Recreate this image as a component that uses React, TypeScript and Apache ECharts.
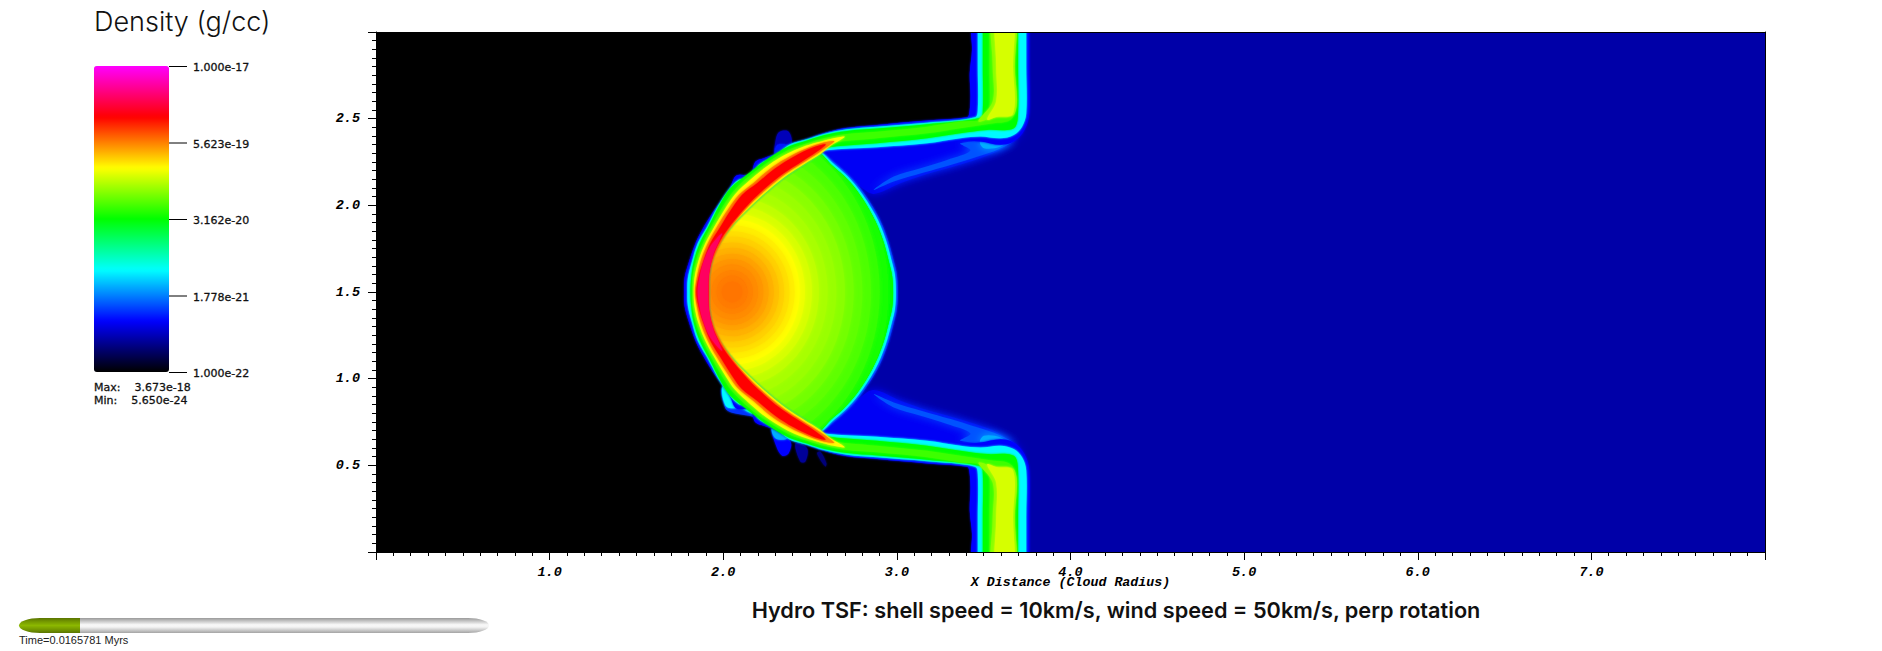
import React, { useEffect, useRef } from "react";
import * as echarts from "echarts";

type P = number[];

const CHART_TITLE = "Hydro TSF: shell speed = 10km/s, wind speed = 50km/s, perp rotation";
const COLORBAR_TITLE = "Density (g/cc)";
const X_AXIS_NAME = "X Distance (Cloud Radius)";
const TIME_LABEL = "Time=0.0165781 Myrs";
const STATS = ["Max:    3.673e-18", "Min:    5.650e-24"];
const colorbarTickLogs = [-17, -18.25, -19.5, -20.75, -22];
const colorbarTickLabels = ["1.000e-17", "5.623e-19", "3.162e-20", "1.778e-21", "1.000e-22"];
const colormap = ["#000000", "#0000ff", "#00ffff", "#00ff00", "#ffff00", "#ff0000", "#ff00ff"];

// Density contours, as [x, y] in axis units; upper half, top to equator.
const outerA: P[] = [[3.427,3.15],[3.427,3],[3.433,2.897],[3.42,2.762],[3.424,2.627],[3.417,2.53],[3.405,2.508],[3.174,2.489],[2.886,2.464],[2.694,2.445],[2.579,2.416],[2.464,2.377],[2.387,2.354],[2.3,2.297],[2.233,2.272],[2.185,2.252],[2.156,2.181],[2.076,2.172],[2.041,2.108],[2.003,2.05],[1.936,1.954],[1.878,1.858],[1.84,1.781],[1.8,1.666],[1.777,1.58],[1.774,1.5]];
const outerB: P[] = [[3.466,3.15],[3.466,3],[3.466,2.8],[3.466,2.55],[3.45,2.508],[3.174,2.477],[2.886,2.454],[2.713,2.439],[2.579,2.412],[2.483,2.381],[2.377,2.348],[2.3,2.285],[2.204,2.233],[2.16,2.156],[2.089,2.147],[2.032,2.089],[1.968,1.993],[1.907,1.877],[1.853,1.781],[1.82,1.676],[1.796,1.579],[1.793,1.5]];
const outerC: P[] = [[3.495,3.15],[3.495,3],[3.495,2.8],[3.495,2.55],[3.48,2.505],[3.174,2.468],[2.886,2.443],[2.713,2.429],[2.579,2.404],[2.483,2.374],[2.377,2.339],[2.262,2.272],[2.147,2.185],[2.041,2.099],[1.984,2.012],[1.92,1.887],[1.865,1.781],[1.83,1.676],[1.815,1.579],[1.811,1.5]];
const outerD: P[] = [[3.533,3.15],[3.533,3],[3.533,2.8],[3.533,2.55],[3.515,2.5],[3.366,2.483],[3.174,2.454],[2.886,2.425],[2.713,2.412],[2.579,2.387],[2.483,2.358],[2.377,2.32],[2.262,2.252],[2.147,2.166],[2.057,2.079],[2.003,2.002],[1.936,1.887],[1.882,1.781],[1.845,1.685],[1.824,1.589],[1.82,1.5]];
const outerE: P[] = [[2.7,2.395],[2.636,2.387],[2.54,2.362],[2.454,2.335],[2.368,2.297],[2.262,2.233],[2.156,2.147],[2.07,2.066],[2.016,1.989],[1.949,1.877],[1.897,1.781],[1.859,1.685],[1.836,1.589],[1.83,1.5]];
const outerF: P[] = [[2.64,2.37],[2.579,2.362],[2.483,2.329],[2.387,2.285],[2.281,2.22],[2.176,2.131],[2.089,2.06],[2.032,1.983],[1.964,1.877],[1.911,1.781],[1.872,1.685],[1.849,1.589],[1.838,1.5]];
const outerG: P[] = [[2.59,2.352],[2.521,2.335],[2.406,2.281],[2.3,2.214],[2.195,2.127],[2.108,2.06],[2.051,1.983],[1.984,1.877],[1.926,1.781],[1.888,1.685],[1.859,1.589],[1.845,1.5]];
const outerH: P[] = [[1.993,1.839],[1.926,1.762],[1.884,1.666],[1.861,1.57],[1.853,1.5]];

const shellInner: P[] = [[1.916,1.5],[1.922,1.627],[1.958,1.745],[2.035,1.865],[2.156,1.993],[2.272,2.099],[2.368,2.175],[2.464,2.237],[2.56,2.297]];
const lowerA: P[] = [[2.598,2.31],[2.886,2.327],[3.174,2.349],[3.366,2.374],[3.481,2.368],[3.597,2.349],[3.673,2.368],[3.735,2.435],[3.763,2.53],[3.763,2.8],[3.763,3],[3.763,3.15]];
const lowerB: P[] = [[2.579,2.316],[2.886,2.335],[3.174,2.358],[3.366,2.387],[3.481,2.397],[3.597,2.387],[3.673,2.406],[3.721,2.454],[3.745,2.53],[3.745,2.8],[3.745,3],[3.745,3.15]];
const lowerC: P[] = [[2.579,2.329],[2.886,2.358],[3.174,2.387],[3.366,2.416],[3.52,2.435],[3.635,2.435],[3.683,2.454],[3.698,2.53],[3.698,2.8],[3.698,3],[3.698,3.15]];
const lowerD: P[] = [[2.579,2.349],[2.886,2.387],[3.174,2.416],[3.366,2.445],[3.558,2.474],[3.635,2.483],[3.673,2.52],[3.679,2.8],[3.679,3],[3.679,3.15]];
const lowerE: P[] = [[2.62,2.345],[2.7,2.395]];
const innerF: P[] = [[1.916,1.5],[1.922,1.627],[1.968,1.747],[2.034,1.862],[2.149,1.999],[2.262,2.104],[2.358,2.181],[2.454,2.243],[2.55,2.304],[2.62,2.352],[2.64,2.37]];
const innerG: P[] = [[1.916,1.5],[1.922,1.627],[1.955,1.743],[2.022,1.858],[2.141,2.002],[2.252,2.108],[2.348,2.185],[2.444,2.247],[2.54,2.31],[2.59,2.352]];
const innerH: P[] = [[1.913,1.5],[1.918,1.608],[1.945,1.724],[1.974,1.791],[1.993,1.839]];
const wallCore: P[] = [[3.572,3.15],[3.669,3.15],[3.669,2.8],[3.669,2.53],[3.572,2.51],[3.52,2.495],[3.572,2.6],[3.572,2.8]];
const wallMid: P[] = [[3.552,3.15],[3.679,3.15],[3.679,2.8],[3.679,2.53],[3.552,2.505],[3.47,2.485],[3.552,2.6],[3.552,2.8]];

const lensEdge0: P[] = [[2.56,2.31],[2.636,2.252],[2.713,2.185],[2.79,2.098],[2.886,1.95],[2.944,1.815],[2.982,1.68],[3,1.6],[3.005,1.5]];
const lensEdge1: P[] = [[2.56,2.31],[2.627,2.247],[2.704,2.179],[2.78,2.093],[2.875,1.945],[2.933,1.81],[2.971,1.675],[2.989,1.595],[2.994,1.5]];
const lensEdge2: P[] = [[2.56,2.3],[2.617,2.239],[2.694,2.17],[2.771,2.083],[2.86,1.94],[2.918,1.805],[2.955,1.67],[2.973,1.59],[2.978,1.5]];
const lensLeft: P[] = [[1.905,1.5],[1.92,1.63],[1.96,1.75],[2.03,1.86],[2.13,1.99],[2.25,2.09],[2.35,2.17],[2.44,2.24],[2.54,2.3]];

const wake0: P[] = [[2.579,2.304],[2.79,2.358],[3.174,2.397],[3.558,2.435],[3.721,2.435],[3.673,2.377],[3.597,2.32],[3.481,2.272],[3.328,2.224],[3.174,2.181],[3.02,2.127],[2.867,2.066],[2.79,2.108],[2.675,2.204]];
const wake1: P[] = [[3.366,2.358],[3.673,2.377],[3.587,2.324],[3.462,2.281],[3.309,2.233],[3.155,2.189],[2.982,2.137],[2.867,2.089],[2.982,2.166],[3.136,2.214],[3.289,2.262],[3.424,2.316]];
const wake2: P[] = [[3.481,2.368],[3.654,2.387],[3.597,2.339],[3.501,2.329]];

const wispTop0: P[] = [[2.3,2.291],[2.304,2.387],[2.325,2.425],[2.377,2.425],[2.391,2.348]];
const wispTop1: P[] = [[2.3,2.291],[2.31,2.348],[2.377,2.348],[2.387,2.339]];
const wispLow0: P[] = [[1.999,0.954],[2.012,0.829],[2.051,0.804],[2.156,0.785],[2.233,0.762],[2.214,0.877]];
const wispLow1: P[] = [[2.003,0.964],[2.018,0.839],[2.099,0.829],[2.176,0.8],[2.156,0.935]];
const wispLow2: P[] = [[2.281,0.714],[2.306,0.608],[2.339,0.556],[2.377,0.57],[2.387,0.637]];
const wispLow3: P[] = [[2.281,0.724],[2.3,0.656],[2.368,0.656],[2.348,0.724]];
const wispLow4: P[] = [[2.416,0.627],[2.444,0.522],[2.473,0.522],[2.483,0.599]];
const wispLow5: P[] = [[2.54,0.57],[2.588,0.493],[2.594,0.512],[2.56,0.579]];

// Radial density profile inside the cloud.
const interiorCentre: P = [2.051, 1.5];
const interiorRx = [0.95,0.9,0.85,0.8,0.75,0.7,0.65,0.6,0.55,0.5,0.46,0.42,0.39,0.36,0.33,0.3,0.27,0.24,0.21,0.18,0.15,0.12,0.09,0.06];
const interiorRy = [1.08,1.03,0.97,0.91,0.85,0.79,0.73,0.67,0.61,0.55,0.5,0.455,0.42,0.385,0.35,0.32,0.285,0.255,0.22,0.19,0.16,0.125,0.095,0.06];
const interiorLog = [-19.5,-19.425,-19.325,-19.25,-19.19,-19.125,-19.05,-19,-18.95,-18.875,-18.8,-18.725,-18.665,-18.615,-18.565,-18.515,-18.465,-18.415,-18.365,-18.325,-18.29,-18.26,-18.235,-18.215];

const mirror = (pts: P[]): P[] => pts.slice().reverse().map(([x, y]) => [x, 3 - y]);
const dedupe = (pts: P[]): P[] => pts.filter((p, i) => {
  const q = pts[(i + pts.length - 1) % pts.length];
  return p[0] !== q[0] || p[1] !== q[1];
});
const ring = (outer: P[], inner: P[]): P[] => dedupe([...outer, ...mirror(outer), ...mirror(inner), ...inner]);
const both = (pts: P[]): P[] => dedupe([...pts, ...mirror(pts)]);
const lens = (edge: P[]): P[] => dedupe([...edge, ...mirror(edge), ...mirror(lensLeft), ...lensLeft]);
const lensClip = lens(lensEdge2);

type Cell = { log: number; pts?: P[]; r?: P; plain?: boolean; soft?: boolean };
const cells: Cell[] = [
  { log: -21.45, pts: [[0, 3], [8, 3], [8, 0], [0, 0]], plain: true },
  { log: -21.2, pts: wake0, soft: true }, { log: -21.2, pts: mirror(wake0), soft: true },
  { log: -20.9, pts: wake1, soft: true }, { log: -20.9, pts: mirror(wake1), soft: true },
  { log: -20.6, pts: wake2, soft: true }, { log: -20.6, pts: mirror(wake2), soft: true },
  { log: -22, pts: [[-1, 3.5], ...both(outerA), [-1, -0.5]] },
  { log: -21.4, pts: wispTop0 }, { log: -21.1, pts: wispTop1 },
  { log: -21.0, pts: wispLow0 }, { log: -20.35, pts: wispLow1 },
  { log: -21.15, pts: wispLow2 }, { log: -20.6, pts: wispLow3 },
  { log: -21.5, pts: wispLow4 }, { log: -21.6, pts: wispLow5 },
  { log: -21.0, pts: lens(lensEdge0) }, { log: -20.35, pts: lens(lensEdge1) }, { log: -19.5, pts: lens(lensEdge2) },
  ...interiorRx.map((rx, i) => ({ log: interiorLog[i], r: [rx, interiorRy[i]] })),
  { log: -21.15, pts: ring(outerA, [...shellInner, ...lowerA]) },
  { log: -20.35, pts: ring(outerB, [...shellInner, ...lowerB]) },
  { log: -19.5, pts: ring(outerC, [...shellInner, ...lowerC]) },
  { log: -19.3, pts: ring(outerD, [...shellInner, ...lowerD]) },
  { log: -19.05, pts: wallMid }, { log: -19.05, pts: mirror(wallMid) },
  { log: -18.8, pts: wallCore }, { log: -18.8, pts: mirror(wallCore) },
  { log: -18.665, pts: ring(outerE, [...shellInner, ...lowerE]) },
  { log: -18.25, pts: ring(outerF, innerF) },
  { log: -17.835, pts: ring(outerG, innerG) },
  { log: -17.52, pts: ring(outerH, innerH) },
];

const BAR = { x: 94, y: 66, w: 75, h: 306 };
const barY = (log: number) => BAR.y + ((-17 - log) / 5) * BAR.h;

export default function App() {
  const ref = useRef<HTMLDivElement>(null);
  useEffect(() => {
    const chart = echarts.init(ref.current!, undefined, { renderer: "svg" });
    const legendFont = { fontFamily: "DejaVu Sans", fontSize: 11, fill: "#111", stroke: "#111", lineWidth: 0.3 };
    const metal = [
      { offset: 0, color: "#9a9a9a" }, { offset: 0.2, color: "#c4c4c4" }, { offset: 0.45, color: "#f8f8f8" },
      { offset: 0.6, color: "#f4f4f4" }, { offset: 1, color: "#a4a4a4" },
    ];
    const olive = [
      { offset: 0, color: "#5a7400" }, { offset: 0.25, color: "#769a00" }, { offset: 0.5, color: "#8cb800" },
      { offset: 0.75, color: "#769a00" }, { offset: 1, color: "#5a7400" },
    ];
    const grad = (s: any[]) => new echarts.graphic.LinearGradient(0, 0, 0, 1, s);
    const graphic: any[] = [
      { type: "text", x: 94, y: 8, style: { text: COLORBAR_TITLE, fontFamily: "Inter", fontSize: 27, fontWeight: 300, fill: "#111" } },
      ...colorbarTickLogs.map((l) => ({ type: "line", shape: { x1: 169, y1: barY(l) + 0.5, x2: 187, y2: barY(l) + 0.5 }, style: { stroke: "#000", lineWidth: 1 } })),
      ...colorbarTickLabels.map((t, i) => ({ type: "text", x: 193, y: barY(colorbarTickLogs[i]) + 1.5, style: { text: t, ...legendFont, verticalAlign: "middle" } })),
      ...STATS.map((t, i) => ({ type: "text", x: 94, y: 387 + i * 13, style: { text: t, ...legendFont, verticalAlign: "middle" } })),
      { type: "ellipse", shape: { cx: 468, cy: 625.5, rx: 21, ry: 7.5 }, style: { fill: grad(metal) } },
      { type: "rect", shape: { x: 80, y: 618, width: 388, height: 15 }, style: { fill: grad(metal) } },
      { type: "ellipse", shape: { cx: 40, cy: 625.5, rx: 21, ry: 7.5 }, style: { fill: grad(olive) } },
      { type: "rect", shape: { x: 40, y: 618, width: 40, height: 15 }, style: { fill: grad(olive) } },
      { type: "text", x: 19, y: 640, style: { text: TIME_LABEL, fontFamily: "Liberation Sans", fontSize: 11, fill: "#222", verticalAlign: "middle" } },
    ];
    const tickFont = { fontFamily: "Liberation Mono", fontStyle: "italic", fontWeight: "bold", fontSize: 13.5, color: "#000" };
    const axisBase = {
      type: "value",
      z: 5,
      splitLine: { show: false },
      axisLine: { show: true, onZero: false, lineStyle: { color: "#000", width: 1 } },
      axisTick: { show: true, length: 8, lineStyle: { color: "#000" } },
      minorTick: { show: true, length: 4, lineStyle: { color: "#000" } },
    };
    const edge = {
      type: "value",
      z: 5,
      axisLine: { show: true, onZero: false, lineStyle: { color: "#000", width: 1 } },
      axisTick: { show: false },
      axisLabel: { show: false },
      splitLine: { show: false },
    };
    chart.setOption({
      animation: false,
      title: {
        text: CHART_TITLE,
        left: 1111,
        top: 594,
        textAlign: "center",
        textStyle: { fontFamily: "Inter", fontSize: 21.7, fontWeight: 600, color: "#111" },
      },
      grid: { left: 376, top: 32, width: 1389, height: 520 },
      visualMap: {
        type: "continuous",
        min: -22,
        max: -17,
        dimension: 0,
        seriesIndex: 0,
        orient: "vertical",
        left: BAR.x,
        top: BAR.y,
        itemWidth: BAR.w,
        itemHeight: BAR.h,
        padding: 0,
        text: ["", ""],
        calculable: false,
        hoverLink: false,
        inRange: { color: colormap },
      },
      xAxis: [
        {
          ...axisBase,
          min: 0, max: 8, interval: 1,
          minorTick: { ...axisBase.minorTick, splitNumber: 10 },
          axisLabel: { ...tickFont, margin: 13, showMinLabel: false, showMaxLabel: false, formatter: (v: number) => v.toFixed(1) },
          name: X_AXIS_NAME,
          nameLocation: "middle",
          nameGap: 24,
          nameMoveOverlap: false,
          nameTextStyle: { ...tickFont, fontSize: 13.3 },
        },
        { ...edge, min: 0, max: 8, position: "top" },
      ],
      yAxis: [
        {
          ...axisBase,
          min: 0, max: 3, interval: 0.5,
          minorTick: { ...axisBase.minorTick, splitNumber: 10 },
          axisLabel: { ...tickFont, margin: 16, padding: [7, 0, 0, 0], showMinLabel: false, showMaxLabel: false, formatter: (v: number) => v.toFixed(1) },
        },
        { ...edge, min: 0, max: 3, position: "right" },
      ],
      series: [
        {
          type: "custom",
          xAxisIndex: 0,
          yAxisIndex: 0,
          silent: true,
          clip: true,
          data: cells.map((c, i) => [c.log, i]),
          encode: { x: [], y: [] },
          renderItem: (_p: any, api: any) => {
            const c = cells[api.value(1)];
            const fill = api.visual("color");
            if (c.r) {
              const [cx, cy] = api.coord(interiorCentre);
              const [rx, ry] = api.size(c.r);
              return {
                type: "ellipse",
                shape: { cx, cy, rx, ry },
                style: { fill, shadowBlur: 4, shadowColor: fill },
                clipPath: { type: "polygon", shape: { smooth: 0.35, points: lensClip.map((p) => api.coord(p)) } },
              };
            }
            if (c.plain) {
              return { type: "polygon", shape: { points: c.pts!.map((p) => api.coord(p)) }, style: { fill } };
            }
            const style = c.log === -22 ? { fill } : { fill, shadowBlur: c.soft ? 8 : 2, shadowColor: fill };
            return { type: "polygon", shape: { smooth: 0.35, points: c.pts!.map((p) => api.coord(p)) }, style };
          },
        },
      ],
      graphic,
    });
    return () => chart.dispose();
  }, []);
  return <div ref={ref} style={{ position: "absolute", left: 0, top: 0, width: 1882, height: 651 }} />;
}
